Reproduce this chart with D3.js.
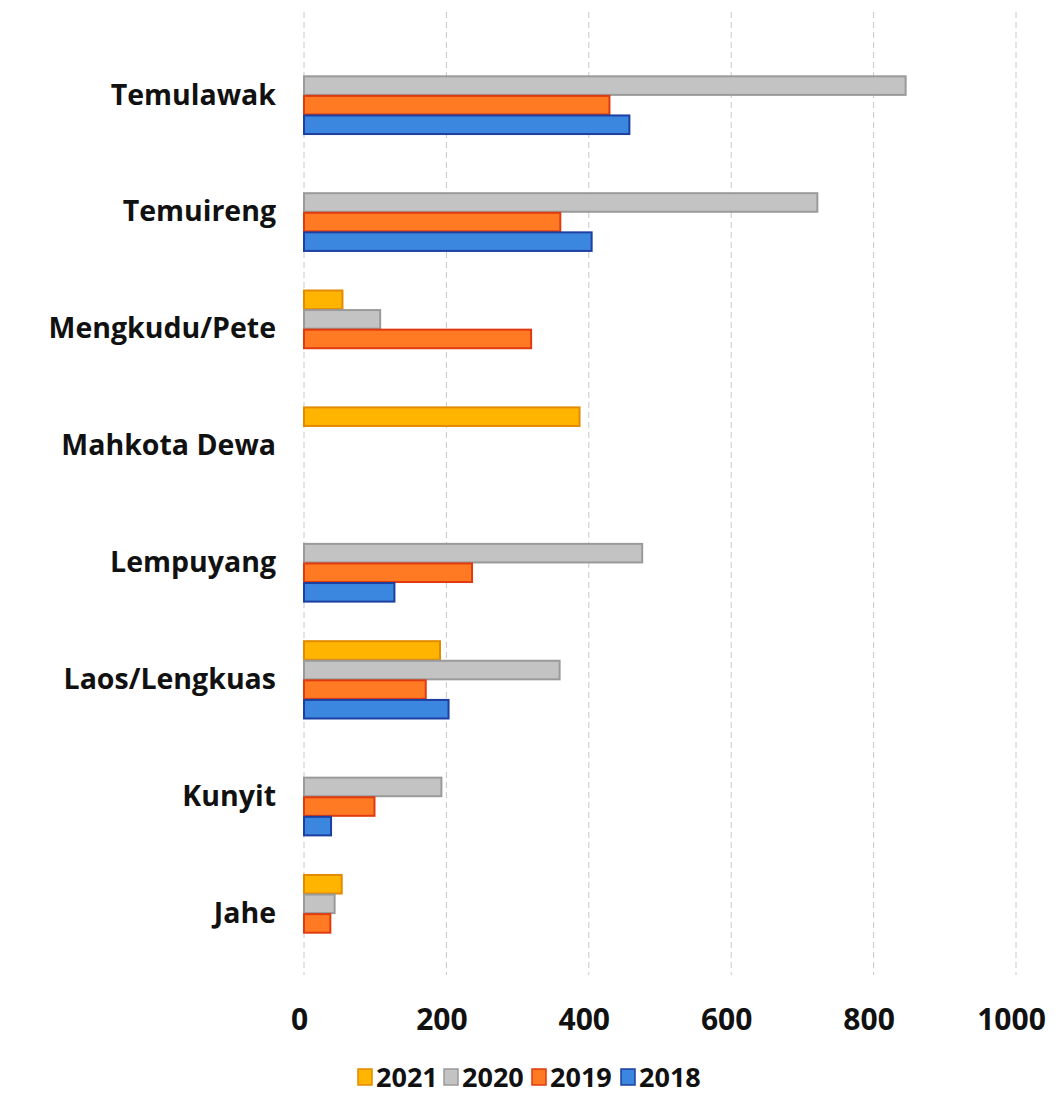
<!DOCTYPE html>
<html><head><meta charset="utf-8">
<script src="https://cdn.jsdelivr.net/npm/d3@7"></script>
<style>
html,body{margin:0;padding:0;background:#fff;}
svg{display:block;}
text{font-family:"Open Sans",Lato,sans-serif;font-weight:700;fill:#111;}
</style></head><body>
<svg id="chart" width="1064" height="1119"></svg>
<script>
const categories = ["Temulawak","Temuireng","Mengkudu/Pete","Mahkota Dewa","Lempuyang","Laos/Lengkuas","Kunyit","Jahe"];
const seriesNames = ["2021","2020","2019","2018"];
const values2021 = [0,0,54,387,0,191,0,53];
const values2020 = [845,721,107,0,475,359,193,43];
const values2019 = [429,360,319,0,236,171,99,37];
const values2018 = [457,404,0,0,127,203,38,0];
const tickValues = [0,200,400,600,800,1000];

const seriesValues = {"2021":values2021,"2020":values2020,"2019":values2019,"2018":values2018};
const fills = {"2021":"#FFB400","2020":"#C3C3C3","2019":"#FF7A22","2018":"#3B87E0"};
const strokes = {"2021":"#E38B00","2020":"#9A9A9A","2019":"#DF3A10","2018":"#1C3FA0"};
const FONT = "'Open Sans',Lato,sans-serif";

const svg = d3.select("#chart");
const x = d3.scaleLinear().domain([0,1000]).range([304,1016]);
const y = d3.scaleBand().domain(categories).range([27,982]).paddingInner(0.33).paddingOuter(0.25);
const y1 = d3.scaleBand().domain(seriesNames).range([0,y.bandwidth()]);

// gridlines
svg.append("g").selectAll("line").data(tickValues).join("line")
  .attr("x1",d=>x(d)).attr("x2",d=>x(d)).attr("y1",12).attr("y2",975)
  .attr("stroke","#c8c8c8").attr("stroke-width",1).attr("stroke-dasharray","6,4");

// bars
const data = [];
categories.forEach((c,i)=>seriesNames.forEach(s=>{
  const v = seriesValues[s][i];
  if(v>0) data.push({c,s,v});
}));
svg.append("g").selectAll("rect").data(data).join("rect")
  .attr("x",x(0)).attr("y",d=>y(d.c)+y1(d.s)+0.5)
  .attr("width",d=>x(d.v)-x(0)).attr("height",y1.bandwidth()-1)
  .attr("fill",d=>fills[d.s]).attr("stroke",d=>strokes[d.s]).attr("stroke-width",2);

// category labels
const yAxis = d3.axisLeft(y).tickSize(0).tickPadding(0);
const ga = svg.append("g").attr("transform","translate(276,0)").call(yAxis);
ga.select(".domain").remove();
ga.selectAll("text").attr("font-size",28.5).attr("font-family",FONT).attr("font-weight",700).attr("fill","#111");

// x tick labels
const xAxis = d3.axisBottom(x).tickValues(tickValues).tickSize(0).tickPadding(0).tickFormat(d3.format("d"));
const gx = svg.append("g").attr("transform","translate(-5,1009)").call(xAxis);
gx.select(".domain").remove();
gx.selectAll("text").attr("font-size",30).attr("font-family",FONT).attr("font-weight",700).attr("fill","#111").attr("dy","0.71em");

// legend
const legendX = [358,444,532,621];
const lg = svg.append("g").selectAll("g").data(seriesNames).join("g")
  .attr("transform",(d,i)=>`translate(${legendX[i]},1077)`);
lg.append("rect").attr("x",0).attr("y",-8).attr("width",14).attr("height",16)
  .attr("fill",d=>fills[d]).attr("stroke",d=>strokes[d]).attr("stroke-width",1.5);
lg.append("text").attr("x",18).attr("y",0).attr("dy","0.36em").attr("font-size",27).attr("font-family",FONT).text(d=>d);
</script>
</body></html>
